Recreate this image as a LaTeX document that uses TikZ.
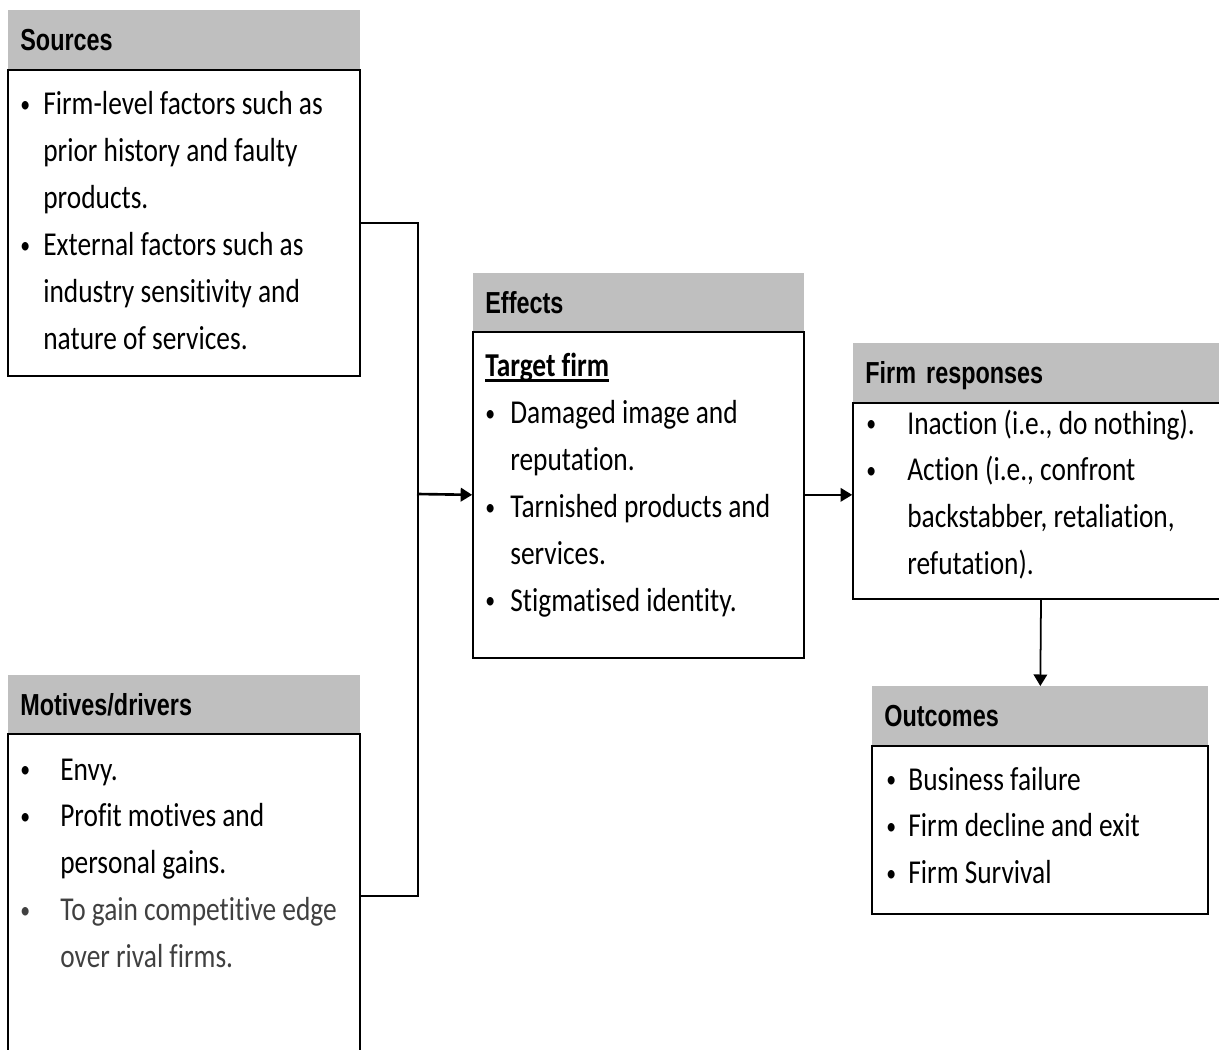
\documentclass[tikz,border=0pt]{standalone}
\usepackage{fontspec}
\setmainfont{Carlito}[FakeStretch=0.82, Ligatures={NoCommon, NoContextual}]
\newfontfamily\headfont{Liberation Sans}[FakeStretch=0.77]
\usetikzlibrary{arrows.meta}
\definecolor{headgray}{HTML}{BFBFBF}
\definecolor{softblack}{HTML}{404040}
\newcommand{\dotmark}{\raisebox{0.08em}{\scalebox{0.72}{•}}}
\newcommand{\ulbold}[1]{\textbf{#1}\llap{\rule[-0.1cm]{\widthof{\textbf{#1}}}{0.05cm}}}
\usepackage{calc}

\begin{document}
\begin{tikzpicture}[x=0.02cm, y=-0.02cm,
    headbox/.style={fill=headgray, anchor=north west, inner ysep=0pt, inner xsep=0.24cm,
        minimum height=1.18cm, text height=0.43cm, text depth=0cm, align=left,
        font=\headfont\fontsize{17.3}{20}\selectfont\bfseries},
    bodybox/.style={draw, line width=1pt, anchor=north, inner sep=0pt},
    bodytext/.style={anchor=base west, inner sep=0pt, font=\fontsize{19}{26.7}\selectfont},
    bracket/.style={line width=1.5pt},
    arr/.style={line width=1pt, -{Triangle[length=0.23cm, width=0.27cm]}}]
    \useasboundingbox (0,0) rectangle (1219,1050);
    \clip (0,0) rectangle (1219,1050);

    % left column
    \node[bodybox, minimum width=7.04cm, minimum height=6.12cm] (sourcesbody) at (184,69) {};
    \node[headbox, minimum width=7.04cm, text width=6.56cm] (sources) at (8,10) {Sources};
    \node[bodytext] (sourcestext) at (20,115) {\begin{tabular}[t]{@{}p{0.46cm}@{}l@{}}
        \dotmark & Firm-level factors such as\\
          & prior history and faulty\\
          & products.\\
        \dotmark & External factors such as\\
          & industry sensitivity and\\
          & nature of services.
    \end{tabular}};

    \node[bodybox, minimum width=7.04cm, minimum height=6.48cm] (motivesbody) at (184,733) {};
    \node[headbox, minimum width=7.04cm, text width=6.56cm, minimum height=1.16cm] (motives) at (8,675) {Motives/drivers};
    \node[bodytext] (motivestext) at (20,780) {\begin{tabular}[t]{@{}p{0.8cm}@{}l@{}}
        \dotmark & Envy.\\
        \dotmark & Profit motives and\\
          & personal gains.\\
        \textcolor{softblack}{\dotmark} & \textcolor{softblack}{To gain competitive edge}\\
          & \textcolor{softblack}{over rival firms.}
    \end{tabular}};

    % middle
    \node[bodybox, minimum width=6.62cm, minimum height=6.52cm] (effectsbody) at (638.5,331) {};
    \node[headbox, minimum width=6.62cm, text width=6.14cm, minimum height=1.16cm] (effects) at (473,273) {Effects};
    \node[bodytext] (effectstext) at (485,377) {\begin{tabular}[t]{@{}p{0.5cm}@{}l@{}}
        \multicolumn{2}{@{}l@{}}{\ulbold{Target firm}}\\
        \dotmark & Damaged image and\\
          & reputation.\\
        \dotmark & Tarnished products and\\
          & services.\\
        \dotmark & Stigmatised identity.
    \end{tabular}};

    % right column
    \node[bodybox, minimum width=7.52cm, minimum height=3.92cm] (responsesbody) at (1041,402) {};
    \node[headbox, minimum width=7.52cm, text width=7.04cm] (responses) at (853,343) {Firm responses};
    \node[bodytext] (responsestext) at (866,434) {\begin{tabular}[t]{@{}p{0.82cm}@{}l@{}}
        \dotmark & Inaction (i.e., do nothing).\\
        \dotmark & Action (i.e., confront\\
          & backstabber, retaliation,\\
          & refutation).
    \end{tabular}};

    \node[bodybox, minimum width=6.72cm, minimum height=3.36cm] (outcomesbody) at (1040,745) {};
    \node[headbox, minimum width=6.72cm, text width=6.24cm] (outcomes) at (872,686) {Outcomes};
    \node[bodytext] (outcomestext) at (886,790) {\begin{tabular}[t]{@{}p{0.44cm}@{}l@{}}
        \dotmark & Business failure\\
        \dotmark & Firm decline and exit\\
        \dotmark & Firm Survival
    \end{tabular}};

    % connectors
    \coordinate (fork) at (417,494);
    \draw[bracket] (sourcesbody.east) -- ++(57,0) |- (motivesbody.east);
    \draw[arr, line width=1.5pt] (fork) -- (effectsbody.west);
    \draw[arr] (effectsbody.east) -- (effectsbody.east -| responsesbody.west);
    \draw[arr] (responsesbody.south) -- (outcomes.north);
\end{tikzpicture}
\end{document}
